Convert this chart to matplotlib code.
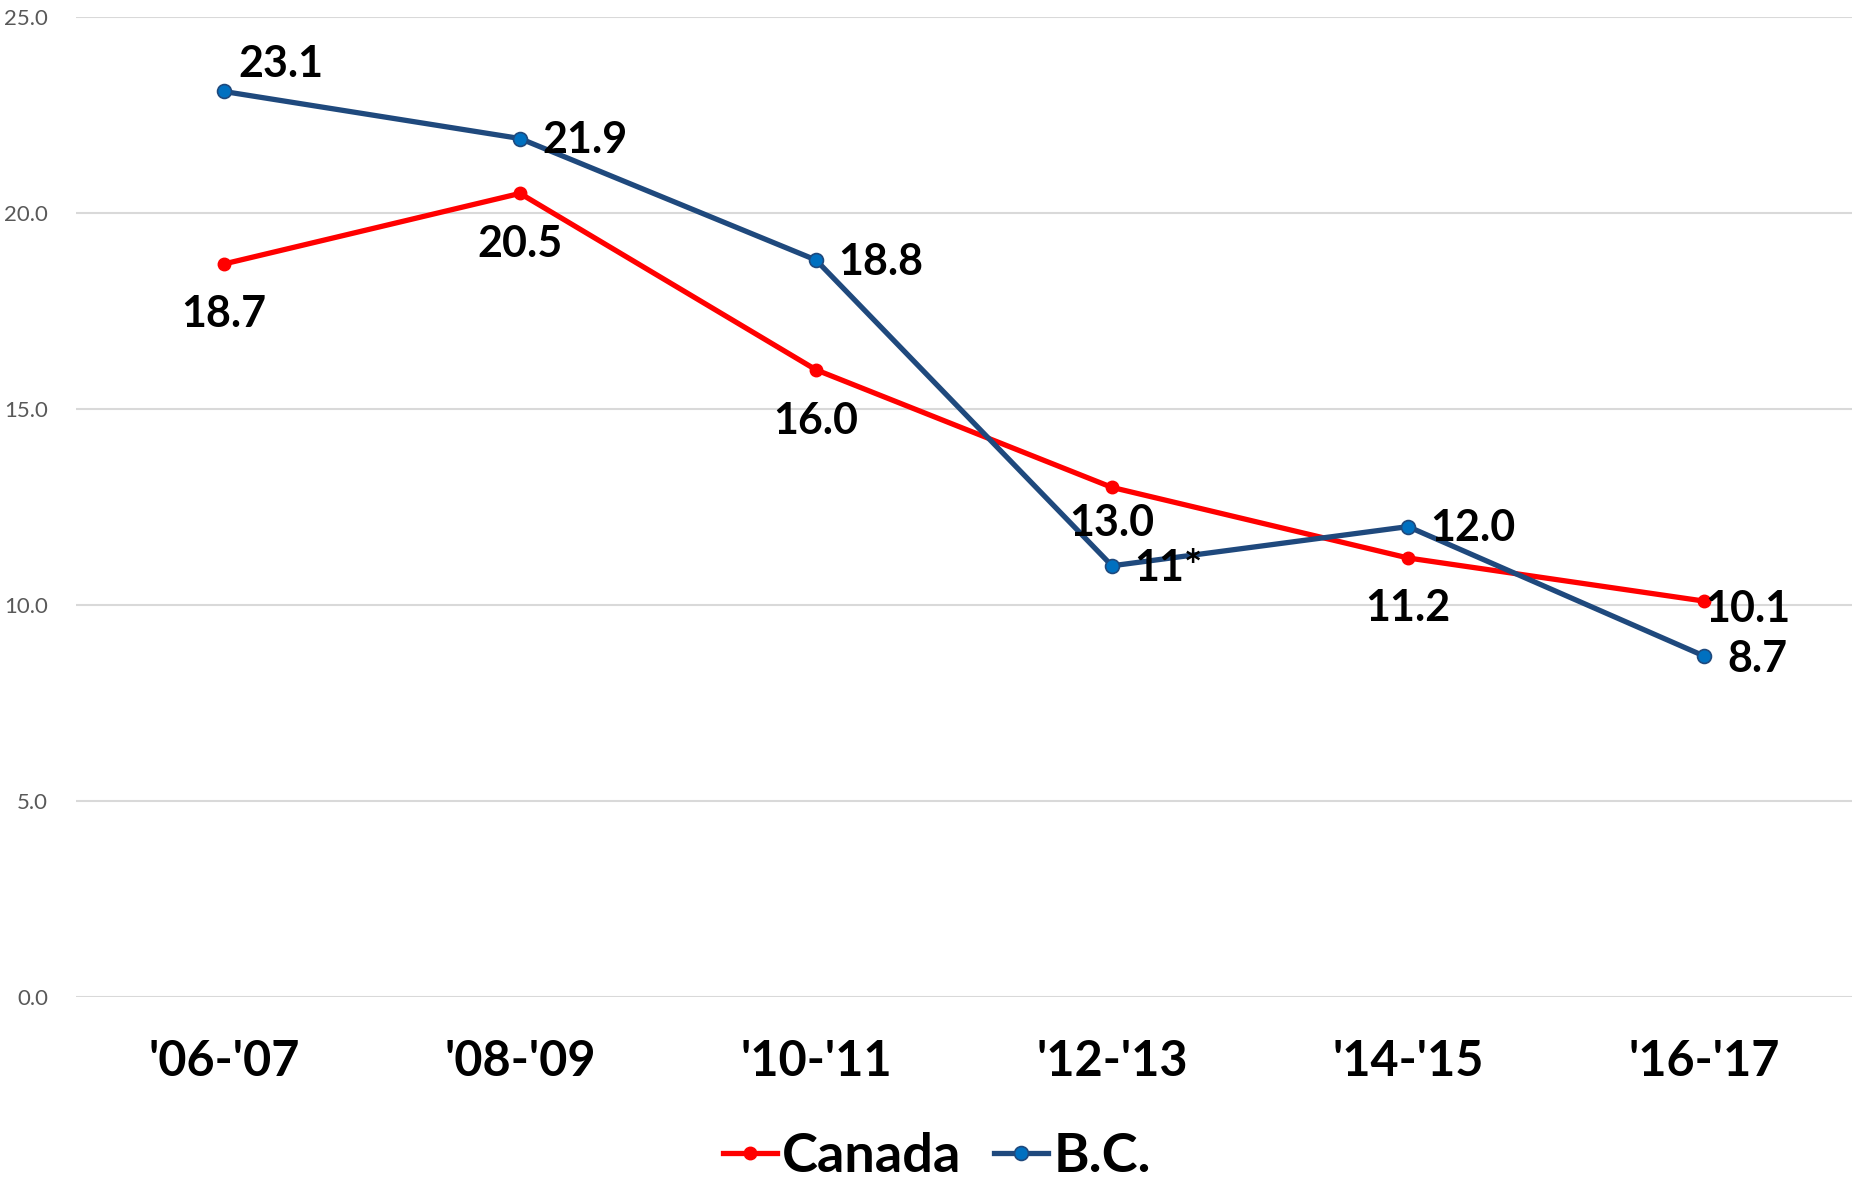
import matplotlib
matplotlib.use("Agg")
import matplotlib.pyplot as plt

# data
periods = ["'06-'07", "'08-'09", "'10-'11", "'12-'13", "'14-'15", "'16-'17"]
canada = [18.7, 20.5, 16.0, 13.0, 11.2, 10.1]
bc = [23.1, 21.9, 18.8, 11.0, 12.0, 8.7]
canada_labels = ["18.7", "20.5", "16.0", "13.0", "11.2", "10.1"]
bc_labels = ["23.1", "21.9", "18.8", "11*", "12.0", "8.7"]

plt.rcParams['font.family'] = ['Lato', 'DejaVu Sans']

fig = plt.figure(figsize=(18.56, 11.79), dpi=100)
ax = fig.add_axes([76/1856, 1-997/1179, (1852-76)/1856, (997-17)/1179])

x = list(range(len(periods)))
ax.plot(x, canada, color='#FF0000', lw=3.8, marker='o', ms=9,
        mfc='#FF0000', mec='#FF0000', label='Canada', zorder=3)
ax.plot(x, bc, color='#1F497D', lw=3.8, marker='o', ms=10,
        mfc='#0070C0', mec='#1F497D', mew=1.2, label='B.C.', zorder=4)

# data labels (offsets in pixels)
can_off = [(0, -50), (0, -51), (0, -51), (0, -36), (0, -50), (44, -8)]
bc_off = [(14, 27), (22, -1), (22, -2), (22, -2), (22, -1), (23, -3)]
for i in x:
    dx, dy = can_off[i]
    ax.annotate(canada_labels[i], (i, canada[i]), xytext=(dx, dy),
                textcoords='offset pixels', ha='center', va='center',
                fontsize=31, fontweight='bold', color='black', zorder=5)
    dx, dy = bc_off[i]
    ax.annotate(bc_labels[i], (i, bc[i]), xytext=(dx, dy),
                textcoords='offset pixels', ha='left', va='center',
                fontsize=31, fontweight='bold', color='black', zorder=5)

ax.set_xlim(-0.5, len(periods) - 0.5)
ax.set_ylim(0, 25)
ax.set_yticks([0, 5, 10, 15, 20, 25])
ax.set_yticklabels(["0.0", "5.0", "10.0", "15.0", "20.0", "25.0"])
ax.set_xticks(x)
ax.set_xticklabels(periods, fontsize=35, fontweight='bold')
ax.tick_params(axis='x', length=0, pad=30)
ax.tick_params(axis='y', length=0, pad=20, labelsize=16, labelcolor='#595959')
ax.grid(axis='y', color='#D9D9D9', lw=1.5)
ax.set_axisbelow(True)
for s in ax.spines.values():
    s.set_visible(False)

leg = fig.legend(loc='center', bbox_to_anchor=(937/1856, 1-1156/1179), ncol=2,
                 frameon=False, prop={'size': 39, 'weight': 'bold'},
                 handlelength=1.0, handletextpad=0.1, columnspacing=0.6)

fig.savefig('out.png', dpi=100, facecolor='white')
